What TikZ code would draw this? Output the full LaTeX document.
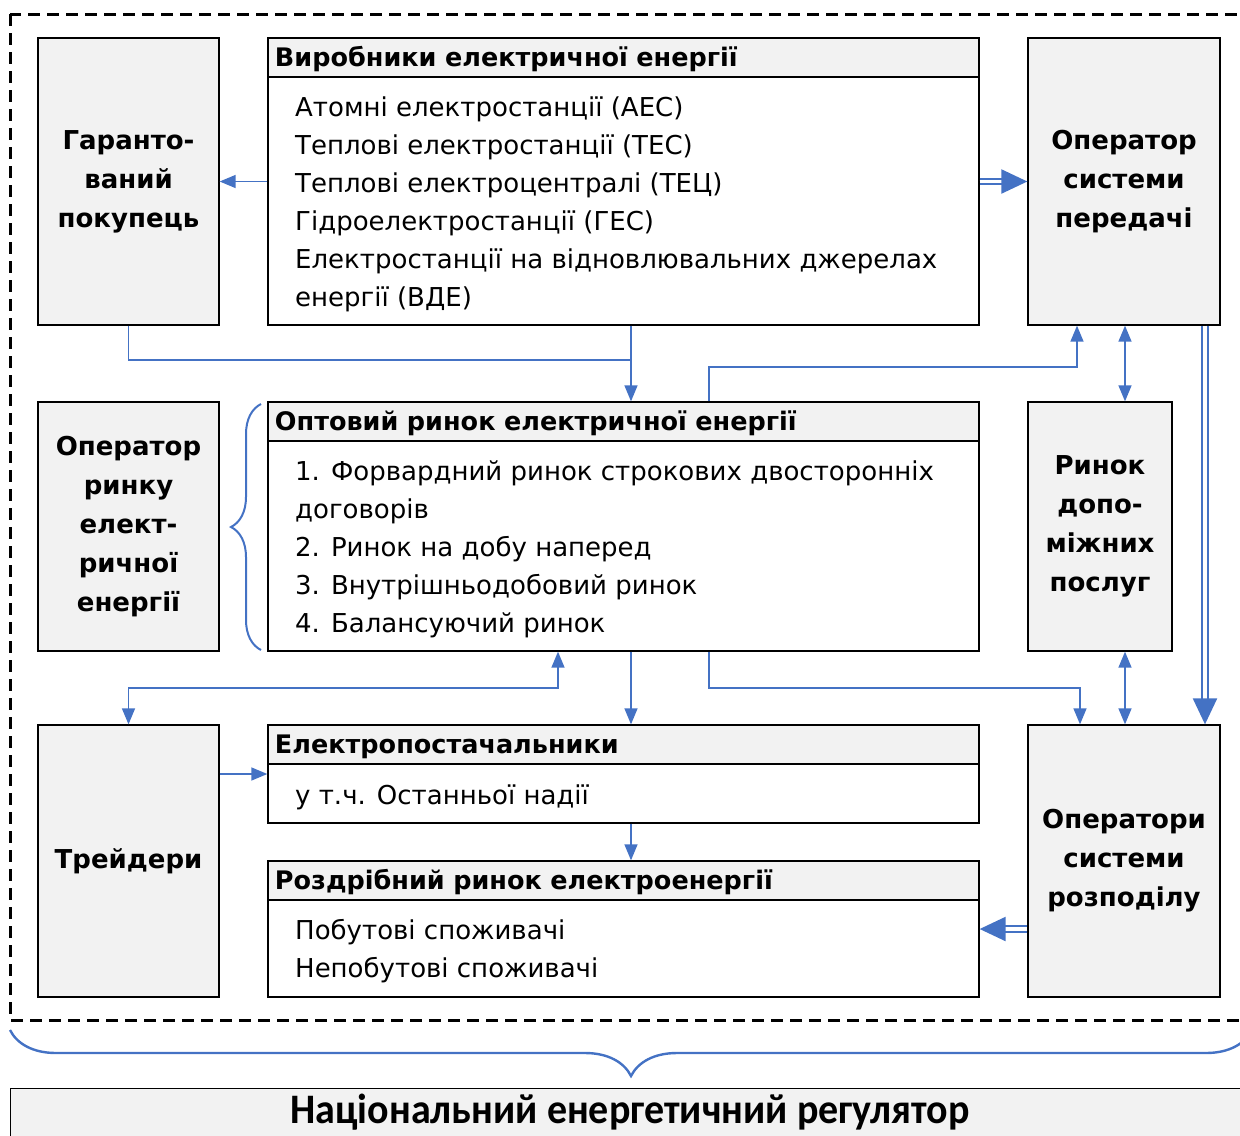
\documentclass[tikz,border=0pt]{standalone}
\usepackage{fontspec}
\setmainfont{DejaVu Sans}
\newfontfamily\regfont{Carlito}
\usetikzlibrary{arrows.meta,decorations.pathreplacing,calc}
\definecolor{arrblue}{HTML}{4472C4}
\definecolor{boxgray}{HTML}{F2F2F2}
\begin{document}
\begin{tikzpicture}[x=1bp,y=-1bp,
  sidebox/.style={draw, line width=1.3bp, fill=boxgray, align=center, inner sep=0pt,
    font=\bfseries\fontsize{26bp}{39bp}\selectfont},
  bigbox/.style={draw, line width=1.3bp, fill=white, inner sep=0pt, minimum width=711bp},
  head/.style={draw, line width=1.3bp, fill=boxgray, anchor=north west, minimum width=711bp,
    minimum height=39bp, text width=697bp, inner xsep=7bp, inner ysep=0pt, align=left,
    text height=21bp, text depth=3bp, font=\bfseries\fontsize{25.5bp}{30bp}\selectfont},
  txt/.style={anchor=base west, inner sep=0pt, font=\fontsize{26bp}{30bp}\selectfont},
  conn/.style={arrblue, line width=1.4bp},
  arr/.style={conn, -{Triangle[length=16bp,width=13bp]}},
  barr/.style={conn, {Triangle[length=16bp,width=13bp]}-{Triangle[length=16bp,width=13bp]}},
  dbl/.style={arrblue, line width=2.2bp, double=white, double distance=3.5bp,
    -{Triangle[length=26bp,width=24bp]}}
]
\useasboundingbox (0,0) rectangle (1240,1136);
\clip (0,0) rectangle (1240,1136);

% dashed frame
\draw[line width=3bp, dash pattern=on 12bp off 7bp] (10,14) rectangle (1280,1020);

% side boxes
\node[sidebox, minimum width=181bp, minimum height=287bp] (gar) at (128.5,181.5) {Гаранто-\\ваний\\покупець};
\node[sidebox, minimum width=192bp, minimum height=287bp] (osp) at (1124,181.5) {Оператор\\системи\\передачі};
\node[sidebox, minimum width=181bp, minimum height=249bp] (orin) at (128.5,526.5) {Оператор\\ринку\\елект-\\ричної\\енергії};
\node[sidebox, minimum width=144bp, minimum height=249bp] (rdp) at (1100,526.5) {Ринок\\допо-\\міжних\\послуг};
\node[sidebox, minimum width=181bp, minimum height=272bp] (tr) at (128.5,861) {Трейдери};
\node[sidebox, minimum width=192bp, minimum height=272bp] (osr) at (1124,861) {Оператори\\системи\\розподілу};

% Виробники
\node[bigbox, minimum height=287bp] (vir) at (623.5,181.5) {};
\node[head] (virh) at (vir.north west) {Виробники електричної енергії};
\foreach \t [count=\i] in {{Атомні електростанції (АЕС)},{Теплові електростанції (ТЕС)},{Теплові електроцентралі (ТЕЦ)},{Гідроелектростанції (ГЕС)},{Електростанції на відновлювальних джерелах},{енергії (ВДЕ)}}
  \node[txt] (vt\i) at (295,78+38*\i) {\t};

% Оптовий ринок
\node[bigbox, minimum height=249bp] (opt) at (623.5,526.5) {};
\node[head] (opth) at (opt.north west) {Оптовий ринок електричної енергії};
\foreach \t [count=\i] in {{1. Форвардний ринок строкових двосторонніх},{договорів},{2. Ринок на добу наперед},{3. Внутрішньодобовий ринок},{4. Балансуючий ринок}}
  \node[txt] (ot\i) at (295,442+38*\i) {\t};

% Електропостачальники
\node[bigbox, minimum height=98bp] (eps) at (623.5,774) {};
\node[head] (epsh) at (eps.north west) {Електропостачальники};
\node[txt] (et1) at (295,804) {у т.ч. Останньої надії};

% Роздрібний ринок
\node[bigbox, minimum height=136bp] (rozd) at (623.5,929) {};
\node[head] (rozdh) at (rozd.north west) {Роздрібний ринок електроенергії};
\node[txt] (rt1) at (295,939) {Побутові споживачі};
\node[txt] (rt2) at (295,977) {Непобутові споживачі};

% braces
\draw[arrblue, line width=2bp, decorate, decoration={brace, amplitude=30bp}] (261,650) -- (261,404);
\draw[arrblue, line width=2.4bp, decorate, decoration={brace, amplitude=46bp}] (1252,1030) -- (10,1030);

% regulator
\node[draw, line width=1.3bp, fill=boxgray, anchor=north west, minimum width=1260bp, minimum height=80bp] (reg) at (10,1088) {};
\node[font=\regfont\bfseries\fontsize{40bp}{42bp}\selectfont, inner sep=0pt] (regt) at (630,1112) {\scalebox{1}[1.05]{Національний енергетичний регулятор}};

% connectors
\coordinate (j1) at (631,360);
\coordinate (j2) at (709,367);
\coordinate (j3) at (1077,367);
\coordinate (c1) at (1125,0);
\coordinate (c2) at (1205,0);
\coordinate (j4) at (558,688);
\coordinate (j5) at (709,688);
\coordinate (j6) at (1080,688);

\draw[arr] (vir.west) -- (gar.east);
\draw[dbl] (vir.east) -- (osp.west);
\draw[conn] (gar.south) |- (j1);
\draw[arr] (vir.south -| j1) -- (opt.north -| j1);
\draw[arr] (opt.north -| j2) -- (j2) -- (j3) -- (osp.south -| j3);
\draw[barr] (osp.south -| c1) -- (rdp.north -| c1);
\draw[dbl] (osp.south -| c2) -- (osr.north -| c2);
\draw[barr] (opt.south -| j4) -- (j4) -| (tr.north);
\draw[arr] (opt.south -| j1) -- (eps.north -| j1);
\draw[arr] (opt.south -| j5) -- (j5) -- (j6) -- (osr.north -| j6);
\draw[barr] (rdp.south -| c1) -- (osr.north -| c1);
\draw[arr] (tr.east |- eps.west) -- (eps.west);
\draw[arr] (eps.south -| j1) -- (rozd.north -| j1);
\draw[dbl] (osr.west |- rozd.east) -- (rozd.east);
\end{tikzpicture}
\end{document}
